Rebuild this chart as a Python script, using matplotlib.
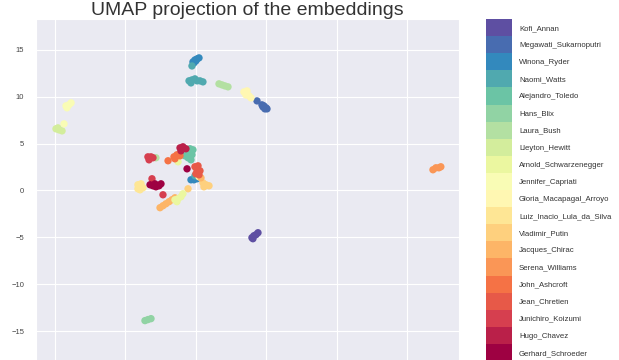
import numpy as np
import matplotlib
matplotlib.use("Agg")
import matplotlib.pyplot as plt
import seaborn as sns

sns.set_style("darkgrid")
plt.rcParams['font.family'] = ['Liberation Sans', 'DejaVu Sans']

# class names, index = colour value (0 -> bottom of the colour bar)
names = ["Gerhard_Schroeder", "Hugo_Chavez", "Junichiro_Koizumi", "Jean_Chretien",
         "John_Ashcroft", "Serena_Williams", "Jacques_Chirac", "Vladimir_Putin",
         "Luiz_Inacio_Lula_da_Silva", "Gloria_Macapagal_Arroyo", "Jennifer_Capriati",
         "Arnold_Schwarzenegger", "Lleyton_Hewitt", "Laura_Bush", "Hans_Blix",
         "Alejandro_Toledo", "Naomi_Watts", "Winona_Ryder", "Megawati_Sukarnoputri",
         "Kofi_Annan"]

# 2-d embedding of the face vectors
emb_x = [
    # Kofi_Annan
    8.99, 9.13, 9.28, 9.42, 9.06,
    # Megawati_Sukarnoputri
    9.70, 9.84, 9.99, 10.06, 9.77, 9.91, 9.35,
    # Winona_Ryder
    4.80, 4.94, 5.09, 5.23, 4.87, 5.01, 4.66, 4.87, 5.09,
    # Naomi_Watts
    4.52, 4.73, 4.94, 5.09, 4.66, 5.30, 5.51, 4.73, 4.94,
    # Alejandro_Toledo
    4.59, 4.80, 4.52, 4.73, 4.45, 4.66, 4.23,
    # Hans_Blix
    1.39, 1.60, 1.82,
    # Laura_Bush
    6.65, 6.86, 7.07, 7.29, 2.17,
    # Lleyton_Hewitt
    -4.93, -4.72, -4.50, -4.79,
    # Jennifer_Capriati
    -4.22, -4.01, -3.86, -4.15, -4.36,
    # Gloria_Macapagal_Arroyo
    8.42, 8.64, 8.56, 8.78, 8.92, 5.23,
    # Luiz_Inacio_Lula_da_Silva
    0.89, 1.11, 0.89, 1.25, 1.04,
    # Vladimir_Putin
    5.51, 5.72, 5.94, 5.58, 4.45,
    # Jacques_Chirac
    2.46, 2.67, 2.88, 3.10, 3.31, 3.52, 5.37,
    # Arnold_Schwarzenegger
    3.52, 3.74, 3.95, 4.09, 3.66, 3.74,
    # Serena_Williams
    21.85, 22.06, 22.27, 22.41,
    # John_Ashcroft
    3.45, 3.66, 3.88, 3.52, 3.03,
    # Jean_Chretien
    4.94, 5.16, 5.09, 5.30, 5.01, 5.23,
    # Junichiro_Koizumi
    1.60, 1.82, 1.68, 1.96, 1.89, 2.67,
    # Hugo_Chavez
    3.88, 4.09, 4.30, 3.95,
    # Gerhard_Schroeder
    1.75, 1.96, 2.17, 2.39, 2.53, 2.10, 4.38,
]
emb_y = [
    -5.04, -4.83, -4.72, -4.51, -5.15,
    9.14, 9.03, 8.82, 8.71, 8.92, 8.71, 9.56,
    13.72, 13.93, 14.04, 14.15, 13.61, 13.83, 1.14, 1.14, 1.25,
    11.70, 11.80, 11.91, 11.70, 11.48, 11.70, 11.59, 13.29, 1.57,
    4.45, 4.34, 4.02, 3.81, 3.49, 3.27, 3.70,
    -13.89, -13.78, -13.68,
    11.38, 11.27, 11.16, 11.06, 3.49,
    6.58, 6.47, 6.36, 6.68,
    9.03, 9.14, 9.35, 8.82, 7.11,
    10.52, 10.63, 10.20, 10.10, 9.88, 1.46,
    0.61, 0.71, 0.18, 0.29, 0.07,
    0.82, 0.61, 0.50, 0.39, 0.18,
    -1.84, -1.63, -1.42, -1.20, -0.99, -0.78, 1.35,
    -0.99, -0.88, -0.67, -0.35, -1.20, 3.06,
    2.21, 2.42, 2.42, 2.53,
    3.59, 3.81, 3.70, 3.38, 3.17,
    2.53, 2.63, 2.21, 2.10, 1.78, 1.67,
    3.59, 3.59, 3.27, 3.49, 1.25, -0.46,
    4.55, 4.66, 4.45, 4.23,
    0.61, 0.50, 0.39, 0.50, 0.71, 0.71, 2.31,
]
emb_who = (["Kofi_Annan"] * 5 + ["Megawati_Sukarnoputri"] * 7 + ["Winona_Ryder"] * 9
           + ["Naomi_Watts"] * 9 + ["Alejandro_Toledo"] * 7 + ["Hans_Blix"] * 3
           + ["Laura_Bush"] * 5 + ["Lleyton_Hewitt"] * 4 + ["Jennifer_Capriati"] * 5
           + ["Gloria_Macapagal_Arroyo"] * 6 + ["Luiz_Inacio_Lula_da_Silva"] * 5
           + ["Vladimir_Putin"] * 5 + ["Jacques_Chirac"] * 7 + ["Arnold_Schwarzenegger"] * 6
           + ["Serena_Williams"] * 4 + ["John_Ashcroft"] * 5 + ["Jean_Chretien"] * 6
           + ["Junichiro_Koizumi"] * 6 + ["Hugo_Chavez"] * 4 + ["Gerhard_Schroeder"] * 7)

x_ticks = [-5, 0, 5, 10, 15, 20]
y_ticks = [-15, -10, -5, 0, 5, 10, 15]

codes = [names.index(w) for w in emb_who]

fig = plt.figure(figsize=(6.19, 3.60), dpi=100)
ax = fig.add_axes([36 / 619, -1 / 360, 423 / 619, 342 / 360])
cax = fig.add_axes([486 / 619, -1 / 360, 26 / 619, 342 / 360])

sc = ax.scatter(emb_x, emb_y, c=codes, cmap="Spectral", vmin=0, vmax=len(names) - 1,
                s=28, linewidths=0)
ax.set_xlim(-6.35, 23.7)
ax.set_ylim(-18.2, 18.3)
ax.set_xticks(x_ticks)
ax.set_yticks(y_ticks)
ax.tick_params(labelsize=5.5, colors="#444444", pad=5, labelbottom=False)
ax.set_title("UMAP projection of the embeddings", fontsize=14, color="#333333", pad=2)

cb = fig.colorbar(sc, cax=cax, boundaries=np.arange(len(names) + 1) - 0.5)
cb.set_ticks(np.arange(len(names)))
cb.set_ticklabels(names)
cb.outline.set_visible(False)
cax.grid(False)
cax.tick_params(length=0, labelsize=5.6, colors="#333333", pad=5)

fig.savefig("out.png", dpi=100)
